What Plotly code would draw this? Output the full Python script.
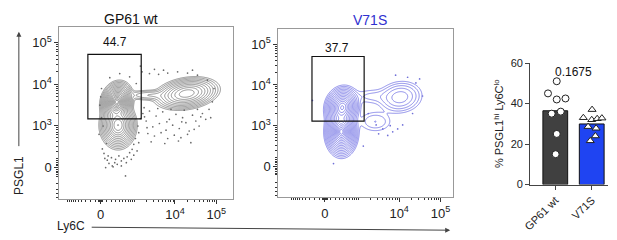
import numpy as np
import plotly.graph_objects as go

W, H = 617, 240
LN10 = np.log(10)
CX, CY = 320.0, 200.0   # biexponential-like linear widths for Ly6C / PSGL1

# ---------------- data ----------------
# flow populations in display (arcsinh/decade) units: x, y, sx, sy, weight, rho
wt_pops = [
    (0.39, 1.58, 0.12, 0.15, 1.00, 0.15),
    (0.42, 1.02, 0.14, 0.18, 0.55, 0.00),
    (2.08, 1.78, 0.26, 0.13, 0.30, 0.25),
    (1.20, 1.74, 0.30, 0.06, 0.015, 0.00),
]
v71s_pops = [
    (0.42, 1.45, 0.14, 0.17, 0.80, 0.10),
    (0.40, 0.85, 0.13, 0.20, 1.00, 0.00),
    (1.82, 1.70, 0.23, 0.17, 0.06, 0.10),
    (1.22, 1.10, 0.22, 0.14, 0.015, 0.00),
    (1.15, 1.72, 0.30, 0.11, 0.010, 0.00),
]
wt_dots_x = [1.02, 1.10, 1.18, 1.26, 1.34, 1.42, 1.50, 1.58, 1.66, 1.74, 1.82, 1.90, 1.98, 2.06, 2.14,
             2.22, 2.30, 2.38, 2.46, 2.54, 1.14, 1.30, 1.46, 1.62, 1.78, 1.94, 2.10, 2.26, 1.22, 1.55,
             1.88, 2.18, 2.62, 2.70, 2.66, 1.05, 1.38, 1.70, 2.02, 2.34,
             1.00, 1.18, 1.40, 1.62, 1.86, 2.10, 2.34, 2.58, 2.74, 1.30, 0.96, 1.52, 2.22,
             -0.02, 0.02, -0.04, 0.04, 0.10, 0.20, 0.34, 0.50, 0.64, 0.76, 0.84, 0.90, 0.22, 0.46,
             0.70, 0.86, 0.02, 0.60, 0.30, 0.12, 0.80,
             0.08, 0.16, 0.26, 0.40, 0.56, 0.70, 0.80, 0.92, 0.96, 0.06, 0.00, 0.14, 0.28, 0.44,
             0.62, 0.74, 0.88, 1.06, 1.12, 0.50, 0.36, 0.18, 0.92, 1.60, 1.96, 2.42]
wt_dots_y = [1.30, 1.12, 1.36, 0.98, 1.24, 1.06, 1.34, 0.90, 1.16, 1.02, 1.28, 0.94, 1.20, 1.08, 0.88,
             1.26, 1.12, 1.00, 1.30, 1.16, 0.82, 0.76, 0.84, 0.70, 0.78, 0.72, 0.80, 0.92, 0.62, 0.58,
             0.64, 0.60, 1.40, 1.58, 1.20, 1.44, 1.42, 1.40, 1.38, 1.40,
             2.30, 2.26, 2.24, 2.27, 2.30, 2.27, 2.22, 2.10, 1.90, 2.36, 2.44, 2.34, 2.34,
             1.50, 1.20, 0.80, 0.45, 0.22, 0.10, 0.12, 0.16, 0.26, 0.44, 0.70, 1.00, 2.16, 2.26,
             2.18, 2.02, 1.90, -0.20, 0.02, 0.00, 0.30,
             0.34, 0.18, 0.24, 0.08, 0.22, 0.36, 0.56, 0.84, 1.18, 1.00, 1.70, 0.58, 0.04, 0.28,
             0.12, 0.20, 0.40, 1.22, 0.96, 0.04, 0.20, 0.28, 0.60, 1.10, 1.10, 1.22]
v71s_dots_x = [1.24, 1.40, 1.64, 1.52, 1.76, 1.88, 1.71, 2.00, 2.29, 2.12, 0.21, -0.30, 0.93, 1.05, 2.36,
               1.58, 1.30, 2.20]
v71s_dots_y = [1.02, 0.92, 0.85, 0.76, 0.92, 1.02, 2.24, 2.19, 2.15, 1.30, 0.07, 1.62, 0.50, 1.30, 1.73,
               1.00, 0.80, 2.05]

# gates (display units): x0, x1, y0, y1
wt_gate = (-0.31, 0.98, 1.17, 2.72)
v71s_gate = (-0.31, 0.95, 1.11, 2.70)
wt_pct = "44.7"
v71s_pct = "37.7"

# tick values (raw)
y_major_raw = [0, 1e3, 1e4, 1e5]
y_ticktext = ["0", "10<sup>3</sup>", "10<sup>4</sup>", "10<sup>5</sup>"]
x_major_raw = [0, 1e4, 1e5]
x_ticktext = ["0", "10<sup>4</sup>", "10<sup>5</sup>"]

# bar chart
groups = ["GP61 wt", "V71S"]
wt_vals = [51, 45, 42, 42.5, 35, 36, 25, 15]
v71s_vals = [37, 33, 32, 32.5, 32.8, 28.6, 27.8, 24, 21.6]
p_value = "0.1675"

# ---------------- helpers ----------------
def tx(v):
    return np.arcsinh(np.asarray(v, float) / CX) / LN10

def ty(v):
    return np.arcsinh(np.asarray(v, float) / CY) / LN10

def density(pops, xr, yr, n=300):
    gx = np.linspace(xr[0], xr[1], n)
    gy = np.linspace(yr[0], yr[1], n)
    X, Y = np.meshgrid(gx, gy)
    Z = np.zeros_like(X)
    for cx, cy, sx, sy, w, rho in pops:
        dx = (X - cx) / sx
        dy = (Y - cy) / sy
        Z += w * np.exp(-(dx * dx - 2 * rho * dx * dy + dy * dy) / (2 * (1 - rho ** 2)))
    R = np.sqrt(-2 * np.log(Z / Z.max() + 1e-300))
    return gx, gy, R

def minor_vals(tf, lin, extra=()):
    vals = list(lin) + list(extra)
    for dec in [1e3, 1e4]:
        vals += [k * dec for k in range(2, 10)]
    return [float(tf(v)) for v in vals]

FONT = "Liberation Sans, Arial, sans-serif"
X1R = [-1.0, 3.2]
X2R = [-1.12, 3.10]
YR = [-0.75, 3.38]

fig = go.Figure()

for pops, xr, col, xa, ya, top in [(wt_pops, X1R, "#666666", "x", "y", 3.5),
                                   (v71s_pops, X2R, "#5c5ce0", "x2", "y2", 3.4)]:
    gx, gy, R = density(pops, xr, YR)
    fig.add_trace(go.Contour(
        x=gx, y=gy, z=R, xaxis=xa, yaxis=ya,
        contours=dict(start=0.3, end=top, size=0.2, coloring="lines"),
        line=dict(width=0.7), colorscale=[[0, col], [1, col]],
        showscale=False, hoverinfo="skip"))

fig.add_trace(go.Scatter(x=wt_dots_x, y=wt_dots_y, mode="markers", xaxis="x", yaxis="y",
                         marker=dict(size=1.7, color="#6a6a6a"), hoverinfo="skip", showlegend=False))
fig.add_trace(go.Scatter(x=v71s_dots_x, y=v71s_dots_y, mode="markers", xaxis="x2", yaxis="y2",
                         marker=dict(size=1.7, color="#7070d8"), hoverinfo="skip", showlegend=False))

# bars
fig.add_trace(go.Bar(x=[0, 1], y=[np.mean(wt_vals), np.mean(v71s_vals)], width=0.68,
                     marker=dict(color=["#404040", "#1f44f2"], line=dict(color="#111", width=1)),
                     xaxis="x3", yaxis="y3", showlegend=False, hoverinfo="skip"))
wt_off = [0.04, -0.2, 0.04, 0.28, -0.1, 0.15, 0.04, 0.01]
v_off = [0.01, -0.23, 0.0, 0.15, 0.28, -0.1, 0.12, 0.1, -0.04]
fig.add_trace(go.Scatter(x=[0 + o for o in wt_off], y=wt_vals, mode="markers", xaxis="x3", yaxis="y3",
                         marker=dict(symbol="circle", size=7, color="white", line=dict(color="#222", width=1)),
                         showlegend=False, hoverinfo="skip"))
fig.add_trace(go.Scatter(x=[1 + o for o in v_off], y=v71s_vals, mode="markers", xaxis="x3", yaxis="y3",
                         marker=dict(symbol="triangle-up", size=7, color="white", line=dict(color="#222", width=1)),
                         showlegend=False, hoverinfo="skip"))

# gates
for g, xa, ya in [(wt_gate, "x", "y"), (v71s_gate, "x2", "y2")]:
    fig.add_shape(type="rect", xref=xa, yref=ya, x0=g[0], x1=g[1], y0=g[2], y1=g[3],
                  line=dict(color="#111", width=1.2))

lin_x = [v for v in range(-1000, 1001, 100) if v != 0] + list(range(-40, 41, 10))
lin_y = [v for v in range(-500, 1000, 100) if v != 0] + list(range(-80, 81, 20))
minor_x = dict(tickvals=minor_vals(tx, lin_x, extra=[1e3]), ticklen=2, tickcolor="#333",
               ticks="outside", tickwidth=1)
minor_y = dict(tickvals=minor_vals(ty, lin_y), ticklen=2, tickcolor="#333", ticks="outside", tickwidth=1)

def flow_x(domain, rng, anchor):
    return dict(domain=domain, range=rng, anchor=anchor, showline=True, mirror=True,
                linecolor="#999", linewidth=1, ticks="outside", ticklen=4, tickcolor="#333",
                tickvals=[float(tx(v)) for v in x_major_raw], ticktext=x_ticktext,
                tickfont=dict(size=13, color="#222", family=FONT), minor=minor_x,
                showgrid=False, zeroline=False, fixedrange=True)

def flow_y(domain, anchor):
    return dict(domain=domain, range=YR, anchor=anchor, showline=True, mirror=True,
                linecolor="#999", linewidth=1, ticks="outside", ticklen=4, tickcolor="#333",
                tickvals=[float(ty(v)) for v in y_major_raw], ticktext=y_ticktext,
                tickfont=dict(size=13, color="#222", family=FONT), minor=minor_y,
                showgrid=False, zeroline=False, fixedrange=True)

def px(x):
    return x / W

def py(y):
    return 1 - y / H

ann = [
    dict(x=px(125), y=py(14), text="GP61 wt", font=dict(size=14, color="#111")),
    dict(x=px(367), y=py(15), text="V71S", font=dict(size=14, color="#3030d0")),
    dict(x=px(108), y=py(38), text=wt_pct, font=dict(size=12, color="#111")),
    dict(x=px(333), y=py(44), text=v71s_pct, font=dict(size=12, color="#111")),
    dict(x=px(64), y=py(232), text="Ly6C", font=dict(size=12, color="#222")),
    dict(x=px(11), y=py(178), text="PSGL1", textangle=-90, font=dict(size=12, color="#222")),
    dict(x=px(573), y=py(69), text=p_value, font=dict(size=12, color="#111")),
]
annotations = []
for a in ann:
    a.update(xref="paper", yref="paper", showarrow=False, xanchor="center", yanchor="middle")
    a["font"]["family"] = FONT
    annotations.append(a)
annotations.append(dict(x=px(448), y=py(236), xref="paper", yref="paper", ax=-360, ay=-3,
                        axref="pixel", ayref="pixel", showarrow=True, arrowhead=2, arrowsize=1,
                        arrowwidth=1, arrowcolor="#444", text=""))
annotations.append(dict(x=px(11), y=py(27), xref="paper", yref="paper", ax=0, ay=116,
                        axref="pixel", ayref="pixel", showarrow=True, arrowhead=2, arrowsize=1,
                        arrowwidth=1, arrowcolor="#444", text=""))

fig.update_layout(
    width=W, height=H, margin=dict(l=0, r=0, t=0, b=0),
    paper_bgcolor="white", plot_bgcolor="white", showlegend=False,
    font=dict(family=FONT, color="#222"),
    xaxis=flow_x([px(52), px(228)], X1R, "y"),
    yaxis=flow_y([py(203), py(22)], "x"),
    xaxis2=flow_x([px(274), px(451)], X2R, "y2"),
    yaxis2=flow_y([py(201), py(24)], "x2"),
    xaxis3=dict(domain=[px(529), px(608)], range=[-0.69, 1.45], anchor="y3",
                showline=True, linecolor="#444", linewidth=1, ticks="outside", ticklen=4,
                tickcolor="#444", tickvals=[0, 1], ticktext=groups, tickangle=-45,
                tickfont=dict(size=11, color="#222", family=FONT), showgrid=False,
                zeroline=False, fixedrange=True),
    yaxis3=dict(domain=[py(188), py(60)], range=[0, 60], anchor="x3",
                showline=True, linecolor="#444", linewidth=1, ticks="outside", ticklen=4,
                tickcolor="#444", tickvals=[0, 20, 40, 60],
                tickfont=dict(size=11, color="#222", family=FONT), showgrid=False,
                zeroline=False, fixedrange=True,
                title=dict(text="% PSGL1<sup>hi</sup> Ly6C<sup>lo</sup>", standoff=4,
                           font=dict(size=11, color="#222", family=FONT))),
    annotations=annotations,
)

fig.write_html("out.html", config={"displayModeBar": False},
               post_script="document.body.style.margin='0';document.body.style.padding='0';")
